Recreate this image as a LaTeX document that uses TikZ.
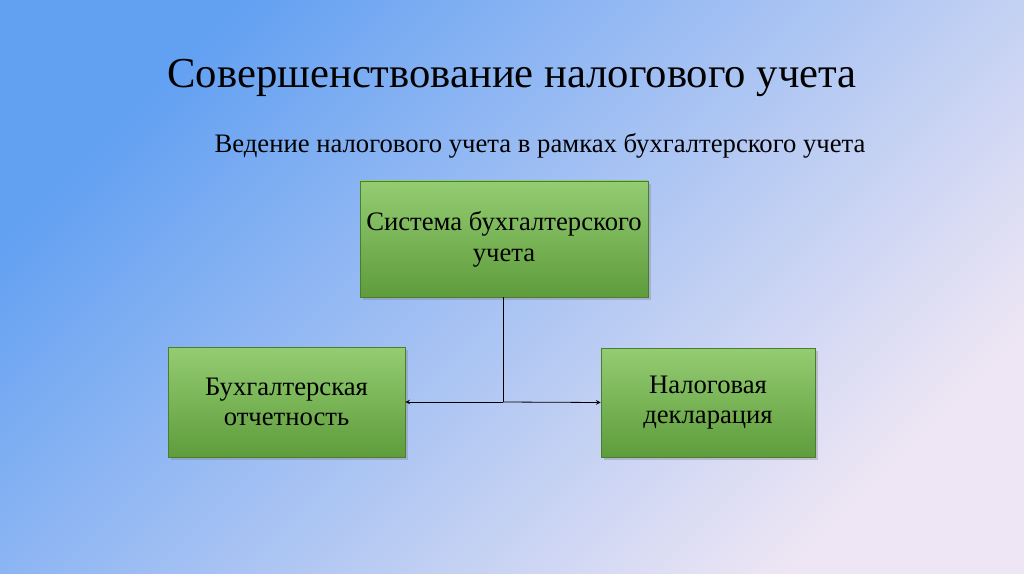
\documentclass[tikz,border=0pt]{standalone}
\usepackage{fontspec}
\setmainfont{Liberation Serif}
\usetikzlibrary{shadows}
\definecolor{bgA}{HTML}{62A0F2}
\definecolor{bgB}{HTML}{EEE6F4}
\definecolor{boxtop}{HTML}{94CC72}
\definecolor{boxbot}{HTML}{5E9C3C}
\begin{document}
\begin{tikzpicture}[x=0.75pt,y=-0.75pt,
                    box node/.style={draw=boxbot!80!black,thin,top color=boxtop,bottom color=boxbot,
                    drop shadow={opacity=0.35},align=center,font=\fontsize{20}{23}\selectfont,inner sep=0pt}]
  \shade[left color=bgA,right color=bgB,shading angle=45] (0,0) rectangle (1024,574);
  \useasboundingbox (0,0) rectangle (1024,574);

  \node (title) at (512,78) {\fontsize{32}{36}\selectfont Совершенствование налогового учета};
  \node (sub) at (540,146) {\fontsize{20}{24}\selectfont Ведение налогового учета в рамках бухгалтерского учета};

  \node[box node,minimum width=288*0.75pt,minimum height=116*0.75pt] (sys) at (504,239) {Система бухгалтерского\\учета};
  \node[box node,minimum width=237*0.75pt,minimum height=110*0.75pt] (otch) at (286.5,402) {Бухгалтерская\\отчетность};
  \node[box node,minimum width=214*0.75pt,minimum height=109*0.75pt] (decl) at (708,402.5) {Налоговая\\декларация};
  \coordinate (j) at (503,402);

  \draw[semithick] (sys.south -| j) -- (j);
  \draw[semithick,->,>=stealth] (j) -- (otch.east);
  \draw[semithick,->,>=stealth] (j) -- (decl.west);
\end{tikzpicture}
\end{document}
